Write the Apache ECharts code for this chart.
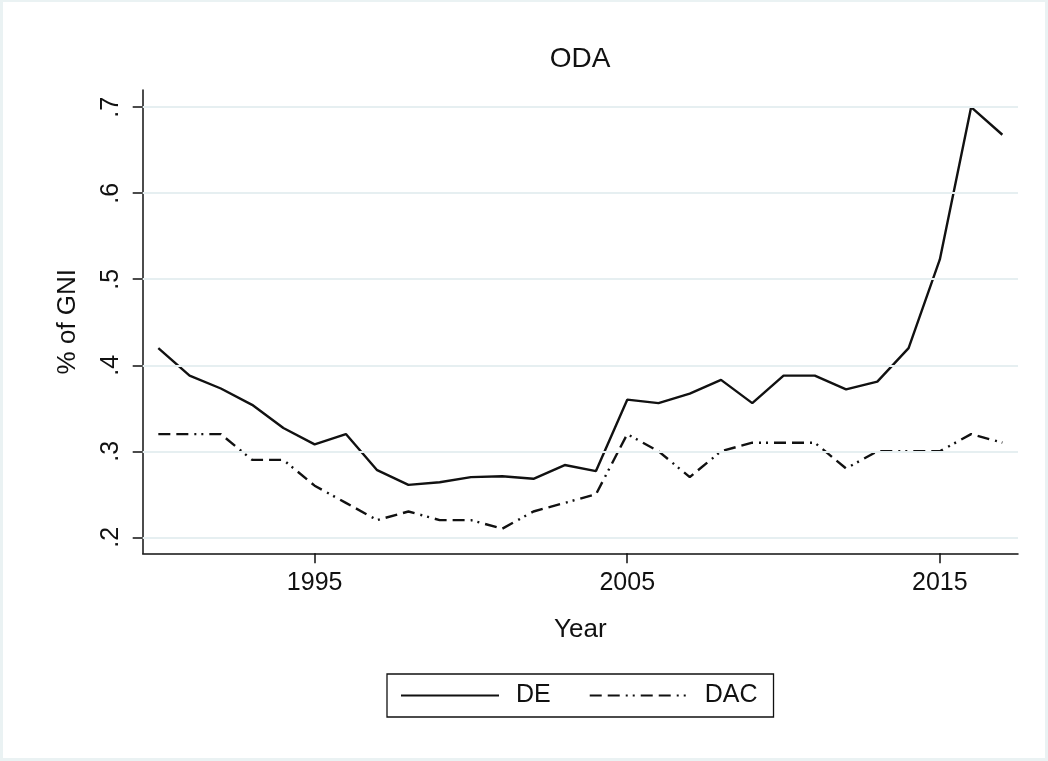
<!DOCTYPE html>
<html>
<head>
<meta charset="utf-8">
<script src="https://cdn.jsdelivr.net/npm/echarts@6/dist/echarts.min.js"></script>
<style>
html, body { margin: 0; padding: 0; width: 1048px; height: 761px; background: #eaf2f3; overflow: hidden; }
#chart { position: absolute; left: 3px; top: 2px; width: 1042px; height: 756px; background: #ffffff; }
</style>
</head>
<body>
<div id="chart"></div>
<script>
// ---- data ----
const years = [1990,1991,1992,1993,1994,1995,1996,1997,1998,1999,2000,2001,2002,2003,2004,2005,2006,2007,2008,2009,2010,2011,2012,2013,2014,2015,2016,2017];
const deValues = [0.420,0.388,0.373,0.354,0.327,0.308,0.320,0.278,0.261,0.264,0.270,0.271,0.268,0.284,0.277,0.360,0.356,0.367,0.383,0.356,0.388,0.388,0.372,0.381,0.420,0.523,0.700,0.668];
const dacValues = [0.32,0.32,0.32,0.29,0.29,0.26,0.24,0.22,0.23,0.22,0.22,0.21,0.23,0.24,0.25,0.32,0.30,0.27,0.30,0.31,0.31,0.31,0.28,0.30,0.30,0.30,0.32,0.31];
const xTicks = [1995, 2005, 2015];
const yTicks = [0.2, 0.3, 0.4, 0.5, 0.6, 0.7];
const seriesNames = ['DE', 'DAC'];

const FONT = '"Liberation Sans", Arial, Helvetica, sans-serif';
const INK = '#111111';

const chart = echarts.init(document.getElementById('chart'), null, { renderer: 'canvas' });

const option = {
  animation: false,
  backgroundColor: '#ffffff',
  textStyle: { fontFamily: FONT, color: INK },
  title: {
    text: 'ODA',
    left: 572,
    top: 38,
    textAlign: 'center',
    textStyle: { fontFamily: FONT, fontSize: 28, fontWeight: 'normal', color: INK }
  },
  grid: { left: 139.7, right: 27, top: 88, bottom: 204.7, containLabel: false },
  xAxis: {
    type: 'value',
    min: 1989.5,
    max: 2017.5,
    name: 'Year',
    nameLocation: 'middle',
    nameGap: 64,
    nameTextStyle: { fontFamily: FONT, fontSize: 26, color: INK },
    axisLine: { show: true, onZero: false, lineStyle: { color: INK, width: 1.5 } },
    axisTick: { show: true, customValues: xTicks, length: 10, inside: false, lineStyle: { color: INK, width: 1.5 } },
    axisLabel: { show: true, customValues: xTicks, margin: 17, fontFamily: FONT, fontSize: 25, color: INK, formatter: v => String(v) },
    splitLine: { show: false }
  },
  yAxis: {
    type: 'value',
    min: 0.1814,
    max: 0.7200,
    name: '% of GNI',
    nameLocation: 'middle',
    nameRotate: 90,
    nameGap: 62,
    nameTextStyle: { fontFamily: FONT, fontSize: 26, color: INK },
    axisLine: { show: true, onZero: false, lineStyle: { color: INK, width: 1.5 } },
    axisTick: { show: true, customValues: yTicks, length: 10, inside: false, lineStyle: { color: INK, width: 1.5 } },
    axisLabel: { show: true, customValues: yTicks, rotate: 90, margin: 19, fontFamily: FONT, fontSize: 25, color: INK,
      formatter: v => v.toFixed(1).replace(/^0/, '') },
    splitLine: { show: false }
  },
  legend: {
    data: seriesNames,
    left: 384,
    top: 672,
    orient: 'horizontal',
    itemWidth: 98,
    itemHeight: 14,
    itemGap: 38,
    padding: [9, 16, 9, 13],
    borderColor: INK,
    borderWidth: 1.3,
    selectedMode: false,
    itemStyle: { color: 'rgba(0,0,0,0)', borderWidth: 0, opacity: 0 },
    textStyle: { fontFamily: FONT, fontSize: 25, color: INK, padding: [0, 0, 0, 12] }
  },
  series: [
    {
      name: '_grid',
      type: 'line',
      data: [],
      z: 1,
      silent: true,
      markLine: {
        silent: true,
        symbol: ['none', 'none'],
        label: { show: false },
        lineStyle: { color: '#e6eff1', width: 2, type: 'solid' },
        data: yTicks.map(v => ({ yAxis: v }))
      }
    },
    {
      name: seriesNames[0],
      type: 'line',
      z: 3,
      symbol: 'none',
      showSymbol: false,
      color: INK,
      lineStyle: { color: INK, width: 2.4, type: 'solid' },
      data: years.map((y, i) => [y, deValues[i]])
    },
    {
      name: seriesNames[1],
      type: 'line',
      z: 3,
      symbol: 'none',
      showSymbol: false,
      color: INK,
      lineStyle: { color: INK, width: 2.4, type: [12, 6, 12, 6, 2, 5, 2, 6] },
      data: years.map((y, i) => [y, dacValues[i]])
    }
  ]
};
chart.setOption(option);
</script>
</body>
</html>
